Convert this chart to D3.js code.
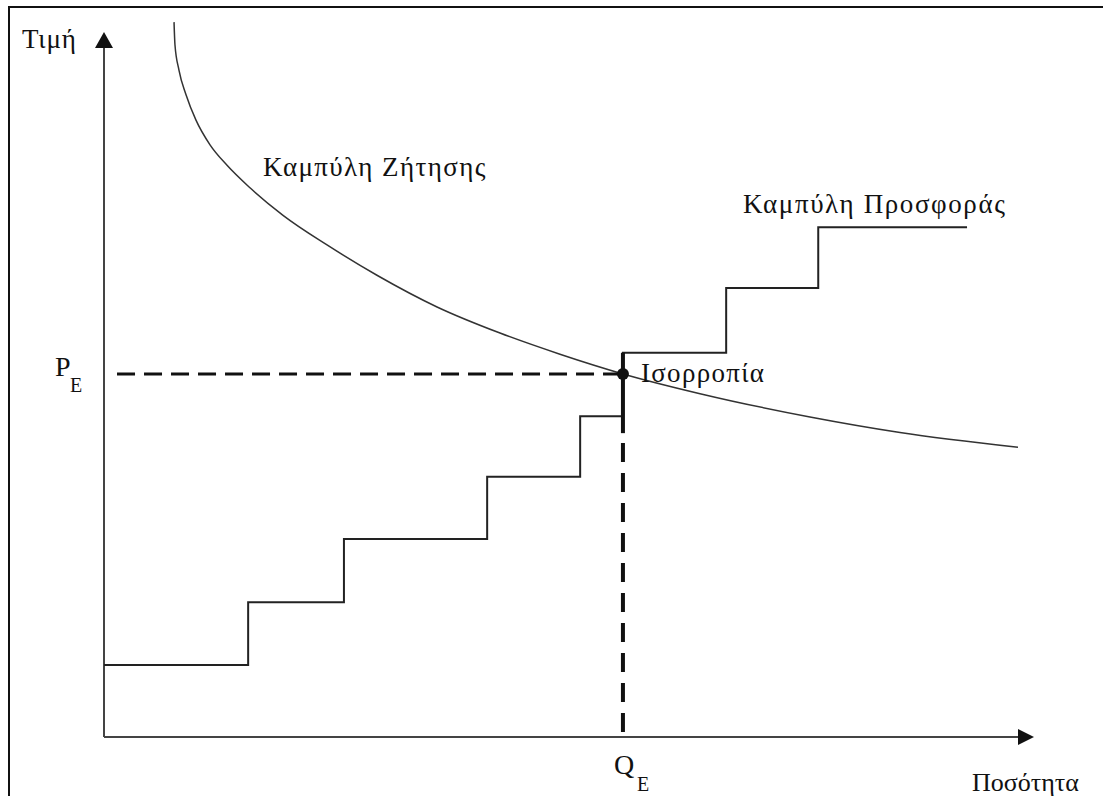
<!DOCTYPE html>
<html>
<head>
<meta charset="utf-8">
<script src="https://cdn.jsdelivr.net/npm/d3@7"></script>
<style>
  body { margin: 0; background: #fff; }
  svg text { font-family: "Liberation Serif", "DejaVu Serif", serif; fill: #111; }
</style>
</head>
<body>
<div id="chart"></div>
<script>
// demand curve (quantity, price)
const demandQ = [7.53, 7.63, 8.06, 8.82, 9.89, 11.40, 13.23, 15.70, 19.25, 23.98, 29.35, 35.81, 42.58, 49.03, 55.81, 64.09, 75.91, 85.59, 98.28];
const demandP = [101.4, 98.2, 94.6, 91.1, 87.5, 84.0, 81.1, 77.9, 74.0, 69.8, 65.5, 61.0, 57.3, 54.3, 51.5, 48.7, 45.4, 43.2, 41.1];

// supply steps: each price level holds from supplyQ[i] to supplyQ[i+1]
const supplyQ = [0, 15.5, 25.8, 41.2, 51.2, 55.8, 66.9, 76.8, 92.8];
const supplyP = [10.2, 19.1, 28.1, 36.9, 45.5, 54.5, 63.7, 72.3, 72.3];

const equilibriumQ = 55.8;
const equilibriumP = 51.5;

const axisLabels = ["Τιμή", "Ποσότητα"];
const curveLabels = ["Καμπύλη Ζήτησης", "Καμπύλη Προσφοράς", "Ισορροπία"];

const W = 1103, H = 796;

const svg = d3.select("#chart")
    .append("svg")
    .attr("width", W)
    .attr("height", H);

// frame
svg.append("rect")
    .attr("x", 9).attr("y", 7)
    .attr("width", W + 20).attr("height", H + 20)
    .attr("fill", "none")
    .attr("stroke", "#111")
    .attr("stroke-width", 2);

const x = d3.scaleLinear().domain([0, 100]).range([104, 1034]);
const y = d3.scaleLinear().domain([0, 100]).range([737, 32]);

// axes with arrow heads
svg.append("line")
    .attr("x1", x(0)).attr("y1", y(0))
    .attr("x2", x(0)).attr("y2", y(100) + 10)
    .attr("stroke", "#444").attr("stroke-width", 2);
svg.append("path")
    .attr("d", `M${x(0)},${y(100)}L${x(0) - 9},${y(100) + 16}L${x(0) + 9},${y(100) + 16}Z`)
    .attr("fill", "#111");

svg.append("line")
    .attr("x1", x(0)).attr("y1", y(0))
    .attr("x2", x(100) - 10).attr("y2", y(0))
    .attr("stroke", "#444").attr("stroke-width", 2);
svg.append("path")
    .attr("d", `M${x(100)},${y(0)}L${x(100) - 16},${y(0) - 8}L${x(100) - 16},${y(0) + 8}Z`)
    .attr("fill", "#111");

// demand
const demand = demandQ.map((q, i) => [q, demandP[i]]);
svg.append("path")
    .datum(demand)
    .attr("fill", "none")
    .attr("stroke", "#333")
    .attr("stroke-width", 1.5)
    .attr("d", d3.line()
        .x(d => x(d[0]))
        .y(d => y(d[1]))
        .curve(d3.curveMonotoneX));

// supply
const supply = supplyQ.map((q, i) => [q, supplyP[i]]);
svg.append("path")
    .datum(supply)
    .attr("fill", "none")
    .attr("stroke", "#222")
    .attr("stroke-width", 2)
    .attr("d", d3.line()
        .x(d => x(d[0]))
        .y(d => y(d[1]))
        .curve(d3.curveStepAfter));

// equilibrium guides
svg.append("line")
    .attr("x1", x(1.4)).attr("y1", y(equilibriumP))
    .attr("x2", x(equilibriumQ)).attr("y2", y(equilibriumP))
    .attr("stroke", "#111").attr("stroke-width", 3)
    .attr("stroke-dasharray", "18,9");

const stepTop = supplyP[supplyQ.indexOf(equilibriumQ)];
svg.append("line")
    .attr("x1", x(equilibriumQ)).attr("y1", y(stepTop))
    .attr("x2", x(equilibriumQ)).attr("y2", y(43.1))
    .attr("stroke", "#111").attr("stroke-width", 4);
svg.append("line")
    .attr("x1", x(equilibriumQ)).attr("y1", y(41.7))
    .attr("x2", x(equilibriumQ)).attr("y2", y(0))
    .attr("stroke", "#111").attr("stroke-width", 4)
    .attr("stroke-dasharray", "19,11");

svg.append("circle")
    .attr("cx", x(equilibriumQ)).attr("cy", y(equilibriumP))
    .attr("r", 6)
    .attr("fill", "#111");

// labels
svg.append("text").attr("x", 22).attr("y", 48)
    .style("font-size", "27px").style("letter-spacing", "0.8px").text(axisLabels[0]);
svg.append("text").attr("x", 972).attr("y", 791)
    .style("font-size", "26px").text(axisLabels[1]);

svg.append("text").attr("x", 263).attr("y", 176)
    .style("font-size", "27px").style("letter-spacing", "1.4px").text(curveLabels[0]);
svg.append("text").attr("x", 743).attr("y", 213)
    .style("font-size", "27px").style("letter-spacing", "1.6px").text(curveLabels[1]);
svg.append("text").attr("x", x(equilibriumQ) + 18).attr("y", y(equilibriumP) + 8)
    .style("font-size", "27px").style("letter-spacing", "1.3px").text(curveLabels[2]);

// P_E and Q_E
svg.append("text").attr("x", 55).attr("y", y(equilibriumP) + 2)
    .style("font-size", "28px").text("P");
svg.append("text").attr("x", 70).attr("y", y(equilibriumP) + 18)
    .style("font-size", "20px").text("E");

svg.append("text").attr("x", x(equilibriumQ) - 9).attr("y", 774)
    .style("font-size", "28px").text("Q");
svg.append("text").attr("x", x(equilibriumQ) + 14).attr("y", 791)
    .style("font-size", "20px").text("E");
</script>
</body>
</html>
